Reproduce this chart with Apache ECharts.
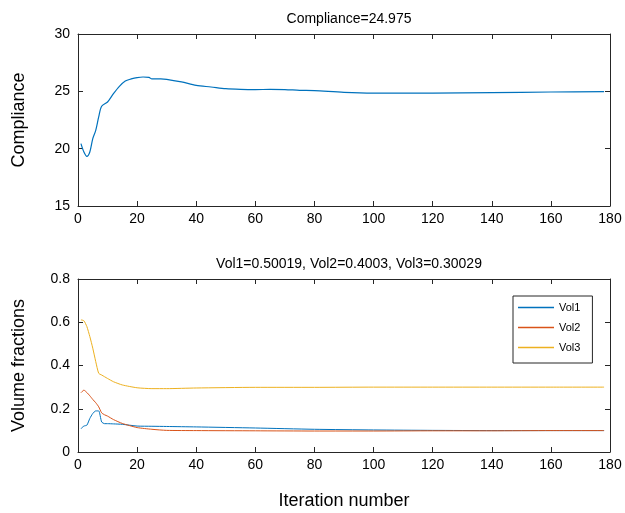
<!DOCTYPE html>
<html><head><meta charset="utf-8">
<script src="https://cdn.jsdelivr.net/npm/echarts@6/dist/echarts.min.js"></script>
<style>html,body{margin:0;padding:0;background:#fff}#c{width:625px;height:513px}</style>
</head><body><div id="c"></div>
<script>
const iterC = [1,2,3,4,5,6,7,8,10,12,14,16,18,20,22,24,25,28,30,35,40,45,50,55,60,65,70,75,80,90,100,120,140,160,178];
const compliance = [20.44,19.71,19.33,19.71,20.88,21.6,22.77,23.7,24.07,24.8,25.44,25.9,26.08,26.2,26.25,26.22,26.08,26.08,26.05,25.82,25.52,25.38,25.23,25.17,25.15,25.17,25.15,25.09,25.06,24.91,24.85,24.85,24.88,24.94,24.975];

const iterV = [1,2,3,4,5,6,7,8,9,10,12,15,20,25,30,40,60,80,100,120,140,160,178];
const vol1 = [0.108,0.12,0.124,0.155,0.178,0.19,0.19,0.139,0.131,0.131,0.13,0.128,0.12,0.119,0.118,0.116,0.111,0.105,0.102,0.1,0.099,0.099,0.099];
const vol2 = [0.274,0.286,0.275,0.26,0.243,0.228,0.209,0.181,0.172,0.166,0.15,0.132,0.113,0.105,0.1,0.099,0.098,0.097,0.097,0.098,0.098,0.099,0.099];
const vol3 = [0.611,0.607,0.58,0.534,0.48,0.418,0.364,0.356,0.348,0.34,0.325,0.31,0.297,0.293,0.293,0.296,0.299,0.299,0.3,0.3,0.3,0.3,0.3];

const volNames = ['Vol1', 'Vol2', 'Vol3'];
const titleTop = 'Compliance=24.975';
const titleBot = 'Vol1=0.50019, Vol2=0.4003, Vol3=0.30029';

const COLORS = ['#0072BD', '#D95319', '#EDB120'];
const FONT = 'Liberation Sans, Arial, sans-serif';
const AX = '#262626';
const zip = (xs, ys) => xs.map((x, i) => [x, ys[i]]);

function xAx(grid, pos, labels, name) {
  return {
    type: 'value', gridIndex: grid, position: pos, min: 0, max: 180, interval: 20,
    axisLine: {show: true, onZero: false, lineStyle: {color: AX, width: 1}},
    axisTick: {show: true, inside: true, length: 5, lineStyle: {color: AX}},
    axisLabel: {show: labels, color: '#000', fontSize: 14, fontFamily: FONT, margin: 6},
    splitLine: {show: false},
    name: name || '', nameLocation: 'middle', nameGap: 40,
    nameTextStyle: {fontSize: 18, fontFamily: FONT, color: '#000'}
  };
}
function yAx(grid, pos, labels, min, max, itv, name, fmt) {
  return {
    type: 'value', gridIndex: grid, position: pos, min: min, max: max, interval: itv,
    axisLine: {show: true, onZero: false, lineStyle: {color: AX, width: 1}},
    axisTick: {show: true, inside: true, length: 5, lineStyle: {color: AX}},
    axisLabel: {show: labels, color: '#000', fontSize: 14, fontFamily: FONT, margin: 8, formatter: fmt},
    splitLine: {show: false},
    name: name || '', nameLocation: 'middle', nameGap: 50, nameRotate: 90,
    nameTextStyle: {fontSize: 18, fontFamily: FONT, color: '#000'}
  };
}

const volData = [vol1, vol2, vol3];
const chart = echarts.init(document.getElementById('c'), null, {renderer: 'canvas'});
chart.setOption({
  animation: false,
  backgroundColor: '#fff',
  title: [
    {text: titleTop, left: 344, top: 7, textAlign: 'center', textStyle: {fontSize: 14, fontWeight: 'normal', fontFamily: FONT, color: '#000'}},
    {text: titleBot, left: 344, top: 252, textAlign: 'center', textStyle: {fontSize: 14, fontWeight: 'normal', fontFamily: FONT, color: '#000'}}
  ],
  grid: [
    {left: 78, right: 15, top: 34, height: 172},
    {left: 78, right: 15, top: 279, height: 173}
  ],
  xAxis: [
    xAx(0, 'bottom', true), xAx(0, 'top', false),
    xAx(1, 'bottom', true, 'Iteration number'), xAx(1, 'top', false)
  ],
  yAxis: [
    yAx(0, 'left', true, 15, 30, 5, 'Compliance'),
    yAx(0, 'right', false, 15, 30, 5),
    yAx(1, 'left', true, 0, 0.8, 0.2, 'Volume fractions', v => v === 0 ? '0' : String(Number(v.toFixed(1)))),
    yAx(1, 'right', false, 0, 0.8, 0.2)
  ],
  legend: {
    orient: 'vertical', left: 513, top: 296,
    padding: [5, 12, 9, 5], itemGap: 7, itemWidth: 36, itemHeight: 1.3,
    borderColor: '#262626', borderWidth: 1, backgroundColor: '#fff',
    textStyle: {fontSize: 11, fontFamily: FONT, color: '#000', lineHeight: 13},
    data: volNames.map((n, i) => ({name: n, icon: 'rect', itemStyle: {color: COLORS[i], borderWidth: 0, opacity: 1}}))
  },
  series: [
    {type: 'line', name: 'Compliance', xAxisIndex: 0, yAxisIndex: 0, data: zip(iterC, compliance), symbol: 'none', smooth: 0.3, lineStyle: {color: COLORS[0], width: 1.2}, itemStyle: {color: COLORS[0]}}
  ].concat(volNames.map((n, i) => ({
    type: 'line', name: n, xAxisIndex: 2, yAxisIndex: 2, data: zip(iterV, volData[i]), symbol: 'none', smooth: 0.2,
    lineStyle: {color: COLORS[i], width: 1}, itemStyle: {color: COLORS[i]}
  })))
});
</script></body></html>
